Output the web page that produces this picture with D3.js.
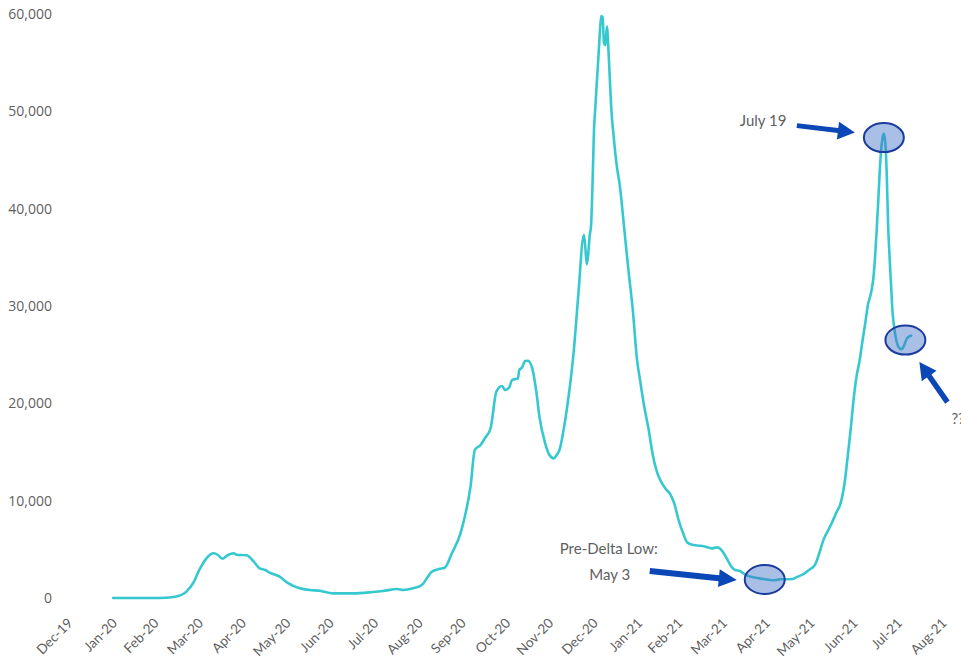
<!DOCTYPE html>
<html>
<head>
<meta charset="utf-8">
<script src="https://cdn.jsdelivr.net/npm/d3@7"></script>
<style>
  html, body { margin: 0; padding: 0; background: #ffffff; }
  svg { display: block; }
</style>
</head>
<body>
<svg id="chart" width="961" height="664"></svg>
<script>
// Daily new cases, 7-day average
const caseDates = [
  "2020-01-28","2020-02-09","2020-02-23","2020-03-05","2020-03-12","2020-03-19","2020-03-24","2020-03-28",
  "2020-04-02","2020-04-07","2020-04-10","2020-04-13","2020-04-17","2020-04-21","2020-04-23","2020-04-30",
  "2020-05-05","2020-05-09","2020-05-13","2020-05-16","2020-05-23","2020-05-28","2020-06-06","2020-06-13",
  "2020-06-20","2020-06-29","2020-07-13","2020-07-27","2020-08-03","2020-08-13","2020-08-17","2020-08-24",
  "2020-08-30","2020-09-06","2020-09-11","2020-09-15","2020-09-20","2020-09-26","2020-09-29","2020-10-03",
  "2020-10-06","2020-10-10","2020-10-13","2020-10-17","2020-10-21","2020-10-25","2020-10-27","2020-10-30",
  "2020-11-01","2020-11-05","2020-11-06","2020-11-08","2020-11-10","2020-11-12","2020-11-15","2020-11-18",
  "2020-11-20","2020-11-24","2020-11-27","2020-11-30","2020-12-02","2020-12-04","2020-12-07","2020-12-10",
  "2020-12-14","2020-12-17","2020-12-21","2020-12-22","2020-12-23","2020-12-24","2020-12-25","2020-12-26",
  "2020-12-27","2020-12-28","2020-12-29","2020-12-30","2020-12-31","2021-01-01","2021-01-02","2021-01-03",
  "2021-01-04","2021-01-05","2021-01-06","2021-01-07","2021-01-08","2021-01-09","2021-01-11","2021-01-13",
  "2021-01-15","2021-01-18","2021-01-21","2021-01-24","2021-01-27","2021-01-29","2021-02-01","2021-02-04",
  "2021-02-07","2021-02-10","2021-02-13","2021-02-16","2021-02-19","2021-02-22","2021-02-25","2021-02-28",
  "2021-03-03","2021-03-06","2021-03-10","2021-03-15","2021-03-20","2021-03-24","2021-03-27","2021-03-30",
  "2021-04-02","2021-04-05","2021-04-09","2021-04-13","2021-04-17","2021-04-21","2021-04-25","2021-04-29",
  "2021-05-03","2021-05-07","2021-05-11","2021-05-15","2021-05-19","2021-05-23","2021-05-27","2021-05-31",
  "2021-06-03","2021-06-06","2021-06-09","2021-06-12","2021-06-15","2021-06-18","2021-06-21","2021-06-23",
  "2021-06-25","2021-06-27","2021-06-29","2021-07-01","2021-07-03","2021-07-05","2021-07-07","2021-07-09",
  "2021-07-11","2021-07-12","2021-07-13","2021-07-14","2021-07-15","2021-07-16","2021-07-17","2021-07-18",
  "2021-07-19","2021-07-20","2021-07-21","2021-07-22","2021-07-23","2021-07-24","2021-07-25","2021-07-26",
  "2021-07-27","2021-07-28","2021-07-29","2021-07-30","2021-07-31","2021-08-01","2021-08-02","2021-08-03",
  "2021-08-04","2021-08-05","2021-08-06"
];
const caseValues = [
  0, 0, 0, 30, 150, 650, 1600, 2880,
  4080, 4590, 4420, 4040, 4420, 4590, 4450, 4390,
  3730, 3050, 2880, 2600, 2190, 1610, 1000, 820,
  750, 480, 480, 620, 720, 920, 820, 1000,
  1340, 2700, 2980, 3100, 4590, 6650, 8350, 11440,
  15210, 15720, 16410, 17440, 21200, 21780, 21370, 21650,
  22400, 22570, 23430, 23700, 24350, 24380, 23600, 21030,
  18630, 15890, 14690, 14350, 14690, 15210, 17400, 20340,
  25480, 30960, 37300, 36000, 34300, 35300, 37200, 38300,
  42500, 48000, 50500, 53000, 55300, 57800, 59800, 59700,
  57000, 56800, 58700, 56600, 53500, 50500, 47000, 44300,
  42400, 38100, 33700, 29700, 24500, 22500, 19700, 17400,
  14700, 12900, 11900, 11200, 10700, 9700, 8000, 6700,
  5700, 5500, 5400, 5300, 5100, 5200, 4900, 4200,
  3400, 2900, 2750, 2350, 2150, 2050, 1950, 1870,
  1820, 1920, 1920, 1950, 2200, 2450, 2900, 3400,
  4600, 6000, 6900, 7800, 8800, 9800, 12200, 14800,
  17500, 20500, 22800, 24300, 26300, 28200, 30200, 31300,
  33300, 35300, 37800, 40500, 43500, 45800, 47200, 47700,
  46800, 43600, 38200, 35000, 32200, 29500, 28000, 27000,
  26300, 25850, 25650, 25550, 25650, 25900, 26300, 26650,
  26800, 26900, 26950
];

// Month labels, each marking the end of its month
const xTickLabels = [
  "Dec-19","Jan-20","Feb-20","Mar-20","Apr-20","May-20","Jun-20","Jul-20","Aug-20","Sep-20","Oct-20",
  "Nov-20","Dec-20","Jan-21","Feb-21","Mar-21","Apr-21","May-21","Jun-21","Jul-21","Aug-21"
];
const yTickValues = [0, 10000, 20000, 30000, 40000, 50000, 60000];

// Annotated points: [date, value, label]
const callouts = [
  ["2021-07-18", 47300, "July 19"],
  ["2021-08-02", 26500, "??"],
  ["2021-04-26", 1900, "Pre-Delta Low:|May 3"]
];

const parse = d3.timeParse("%Y-%m-%d");
const series = caseDates.map((d, i) => ({ date: parse(d), value: caseValues[i] }));
const firstMonthEnd = new Date(2019, 11, 31);
const tickDates = xTickLabels.map((_, i) =>
  d3.timeDay.offset(d3.timeMonth.offset(new Date(2020, 0, 1), i), -1));

const svg = d3.select("#chart");

const x = d3.scaleTime()
  .domain([firstMonthEnd, tickDates[tickDates.length - 1]])
  .range([73, 947]);
const y = d3.scaleLinear().domain([0, 60000]).range([598, 14]);

const textColor = "#5f5f5f";

// Y axis: labels only
const yAxis = svg.append("g")
  .attr("transform", "translate(60,0)")
  .call(d3.axisLeft(y).tickValues(yTickValues).tickFormat(d3.format(",")).tickSize(0).tickPadding(8));
yAxis.select(".domain").remove();
yAxis.selectAll("text")
  .attr("fill", textColor)
  .style("font-family", "'Open Sans', sans-serif")
  .style("font-size", "14px");

// X axis: rotated month labels
const xAxis = svg.append("g")
  .attr("transform", "translate(0,624)")
  .call(d3.axisBottom(x).tickValues(tickDates)
    .tickFormat((d, i) => xTickLabels[i]).tickSize(0).tickPadding(0));
xAxis.select(".domain").remove();
xAxis.selectAll("text")
  .attr("x", 0).attr("y", 0).attr("dy", 0)
  .attr("text-anchor", "end")
  .attr("transform", "rotate(-45)")
  .attr("fill", textColor)
  .style("font-family", "Lato, sans-serif")
  .style("font-size", "13.5px");

// Case line
const line = d3.line()
  .x(d => x(d.date))
  .y(d => y(d.value))
  .curve(d3.curveMonotoneX);

svg.append("path")
  .datum(series)
  .attr("fill", "none")
  .attr("stroke", "#36c8cf")
  .attr("stroke-width", 2.6)
  .attr("stroke-linejoin", "round")
  .attr("stroke-linecap", "round")
  .attr("d", line);

// Callout marks
const arrowBlue = "#0b47b7";
function arrow(g, tail, tip, shaft, headLen, headHalf) {
  const dx = tip[0] - tail[0], dy = tip[1] - tail[1];
  const len = Math.hypot(dx, dy);
  const ux = dx / len, uy = dy / len, px = -uy, py = ux;
  const bx = tip[0] - ux * headLen, by = tip[1] - uy * headLen;
  const pts = [
    [tail[0] + px * shaft / 2, tail[1] + py * shaft / 2],
    [bx + px * shaft / 2, by + py * shaft / 2],
    [bx + px * headHalf, by + py * headHalf],
    tip,
    [bx - px * headHalf, by - py * headHalf],
    [bx - px * shaft / 2, by - py * shaft / 2],
    [tail[0] - px * shaft / 2, tail[1] - py * shaft / 2]
  ];
  g.append("polygon").attr("points", pts.map(p => p.join(",")).join(" ")).attr("fill", arrowBlue);
}

const ann = svg.append("g");
const centers = callouts.map(c => [x(parse(c[0])), y(c[1])]);

centers.forEach(c => {
  ann.append("ellipse")
    .attr("cx", c[0]).attr("cy", c[1])
    .attr("rx", 20).attr("ry", 14.5)
    .attr("fill", "rgba(66,112,200,0.45)")
    .attr("stroke", "#1c3c9c")
    .attr("stroke-width", 2);
});

// Arrows pointing at each ellipse
const [c1, c2, c3] = centers;
arrow(ann, [c1[0] - 87, c1[1] - 12], [c1[0] - 29, c1[1] - 5], 5, 17, 9);
arrow(ann, [c2[0] + 42, c2[1] + 62], [c2[0] + 14, c2[1] + 22], 5.5, 17, 9);
arrow(ann, [c3[0] - 115, c3[1] - 8.5], [c3[0] - 28, c3[1] + 0.5], 6, 18, 9);

const annText = (txt, tx, ty, anchor) => ann.append("text")
  .attr("x", tx).attr("y", ty)
  .attr("text-anchor", anchor)
  .attr("fill", textColor)
  .style("font-family", "Lato, sans-serif")
  .style("font-size", "15px")
  .text(txt);

annText(callouts[0][2], c1[0] - 144, c1[1] - 11.5, "start");
annText(callouts[1][2], c2[0] + 46, c2[1] + 84, "start");
const lowLines = callouts[2][2].split("|");
annText(lowLines[0], c3[0] - 156, c3[1] - 25.5, "middle");
annText(lowLines[1], c3[0] - 155, c3[1] + 0.5, "middle");
</script>
</body>
</html>
